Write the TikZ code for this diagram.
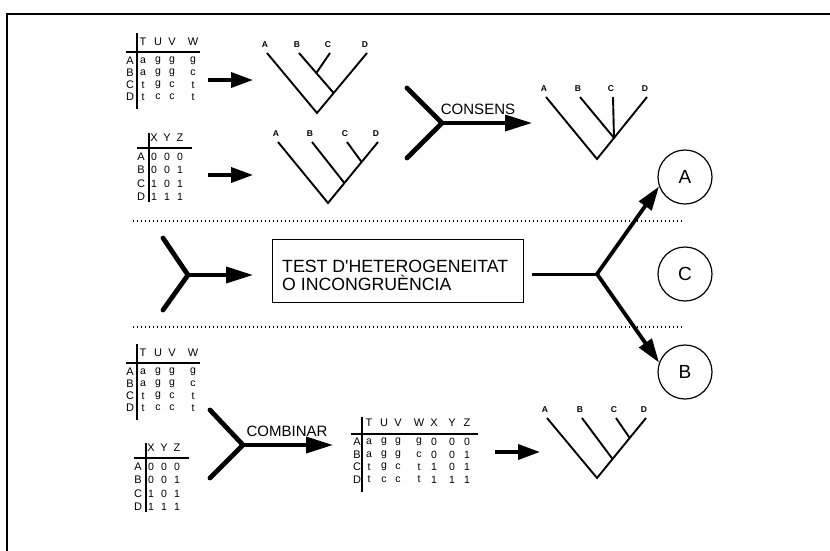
\documentclass[tikz,border=0pt]{standalone}
\usepackage{fontspec}
\setmainfont{Liberation Sans}
\usetikzlibrary{arrows.meta,calc}

\tikzset{
  frame/.style={line width=2.6pt, line join=miter},
  vrule/.style={line width=1.8pt},
  hrule/.style={line width=1.3pt},
  mtxt/.style={inner sep=0pt, font=\fontsize{11}{12}\selectfont},
  mval/.style={inner sep=0pt, font=\fontsize{10.5}{12}\selectfont},
  branch/.style={line width=1.9pt},
  leaf/.style={inner sep=0pt, font=\bfseries\fontsize{8.5}{9}\selectfont},
  fatarrow/.style={line width=3.6pt, -{Triangle[length=22pt,width=15pt]}},
  bigarrow/.style={line width=3.6pt, -{Triangle[length=27pt,width=16pt]}},
  outarrow/.style={line width=3.8pt, -{Triangle[length=24pt,width=15pt]}},
  fork/.style={line width=4.8pt, line cap=round, line join=miter},
  stem/.style={line width=3pt},
  sep/.style={line width=1.1pt, dash pattern=on 1.1pt off 2.9pt},
  outcome/.style={circle, draw, line width=1.2pt, minimum size=54pt, inner sep=0pt,
    font=\fontsize{19}{22}\selectfont},
  testbox/.style={draw, line width=1.4pt, minimum width=251pt, minimum height=63pt,
    inner sep=0pt, anchor=north west},
  testtxt/.style={inner sep=0pt, anchor=north west, align=left,
    font=\fontsize{17.7}{17.5}\selectfont},
  verb/.style={inner sep=0pt, font=\fontsize{15}{18}\selectfont},
}

% character table with columns T U V W
\newcommand\tuvwtable[1]{%
  \coordinate (#1-vt) at (137,33); \coordinate (#1-vb) at (137,109);
  \coordinate (#1-hl) at (126,52); \coordinate (#1-hr) at (200,52);
  \draw[vrule] (#1-vt) -- (#1-vb);
  \draw[hrule] (#1-hl) -- (#1-hr);
  \foreach \hd/\x in {T/143,U/158,V/172,W/193}
    \node[mtxt] (#1-\hd) at (\x,42) {\hd};
  \foreach \rw/\y/\cells in {A/61/{143/a,158/g,172/g,193/g},
                             B/73/{143/a,158/g,172/g,193/c},
                             C/85/{143/t,158/g,172/c,193/t},
                             D/97/{143/t,158/c,172/c,193/t}}{
    \node[mtxt] (#1-\rw) at (130,\y) {\rw};
    \foreach \x/\val [count=\ci] in \cells
      \node[mval] (#1-\rw\ci) at (\x,\y) {\val};
  }
}

% character table with columns X Y Z
\newcommand\xyztable[1]{%
  \coordinate (#1-vt) at (149,133); \coordinate (#1-vb) at (149,202);
  \coordinate (#1-hl) at (137,148); \coordinate (#1-hr) at (192,148);
  \draw[vrule] (#1-vt) -- (#1-vb);
  \draw[hrule] (#1-hl) -- (#1-hr);
  \foreach \hd/\x in {X/154,Y/167,Z/180}
    \node[mtxt] (#1-\hd) at (\x,138) {\hd};
  \foreach \rw/\y/\cells in {A/157/{154/0,167/0,180/0},
                             B/170/{154/0,167/0,180/1},
                             C/184/{154/1,167/0,180/1},
                             D/197/{154/1,167/1,180/1}}{
    \node[mtxt] (#1-\rw) at (141,\y) {\rw};
    \foreach \x/\val [count=\ci] in \cells
      \node[mval] (#1-\rw\ci) at (\x,\y) {\val};
  }
}

\begin{document}
\begin{tikzpicture}[x=1pt,y=-1pt]
\useasboundingbox (0,0) rectangle (830,550);

% frame
\coordinate (fbl) at (7,551);
\coordinate (ftl) at (7,14);
\coordinate (ftr) at (831,14);
\draw[frame] (fbl) -- (ftl) -- (ftr);

% ---------- upper band: separate analyses ----------
\tuvwtable{m1}
\xyztable{m2}

\coordinate (a1s) at (208,80);  \coordinate (a1e) at (253,80);
\coordinate (a2s) at (208,175); \coordinate (a2e) at (253,175);
\draw[fatarrow] (a1s) -- (a1e);
\draw[fatarrow] (a2s) -- (a2e);

% tree from the T U V W table
\coordinate (t1A) at (267,53); \coordinate (t1B) at (299,53);
\coordinate (t1C) at (330,53); \coordinate (t1D) at (367,53);
\coordinate (t1r) at (317,113);
\coordinate (t1n) at ($(t1r)!0.333!(t1D)$);
\coordinate (t1m) at ($(t1B)!0.5!(t1n)$);
\draw[branch] (t1A) -- (t1r) -- (t1D);
\draw[branch] (t1B) -- (t1n);
\draw[branch] (t1C) -- (t1m);
\foreach \t in {A,B,C,D} \node[leaf] (t1l\t) at ([shift={(-2,-8)}]t1\t) {\t};

% tree from the X Y Z table
\coordinate (t2A) at (278,142); \coordinate (t2B) at (312,142);
\coordinate (t2C) at (347,142); \coordinate (t2D) at (378,142);
\coordinate (t2r) at (328,203);
\coordinate (t2n) at ($(t2r)!0.328!(t2D)$);
\coordinate (t2m) at ($(t2r)!0.672!(t2D)$);
\draw[branch] (t2A) -- (t2r) -- (t2D);
\draw[branch] (t2B) -- (t2n);
\draw[branch] (t2C) -- (t2m);
\foreach \t in {A,B,C,D} \node[leaf] (t2l\t) at ([shift={(-2,-8)}]t2\t) {\t};

% consensus
\coordinate (k1u) at (407,88); \coordinate (k1d) at (407,158);
\coordinate (k1j) at (442,123); \coordinate (k1e) at (532,123);
\draw[fork] (k1u) -- (k1j) -- (k1d);
\draw[bigarrow] (k1j) -- (k1e);
\node[verb] (consens) at (478,109) {CONSENS};

\coordinate (t3A) at (546,97); \coordinate (t3B) at (580,97);
\coordinate (t3C) at (613,97); \coordinate (t3D) at (647,97);
\coordinate (t3r) at (597,159);
\coordinate (t3n) at ($(t3r)!0.34!(t3D)$);
\draw[branch] (t3A) -- (t3r) -- (t3D);
\draw[branch] (t3B) -- (t3n);
\draw[branch] (t3C) -- (t3n);
\foreach \t in {A,B,C,D} \node[leaf] (t3l\t) at ([shift={(-2,-8)}]t3\t) {\t};

% ---------- separators ----------
\coordinate (s1a) at (133,221); \coordinate (s1b) at (683,221);
\coordinate (s2a) at (133,327); \coordinate (s2b) at (683,327);
\draw[sep] (s1a) -- (s1b);
\draw[sep] (s2a) -- (s2b);

% ---------- middle band: the test ----------
\coordinate (k2u) at (163,238); \coordinate (k2d) at (163,310);
\coordinate (k2j) at (188,275); \coordinate (k2e) at (253,275);
\draw[fork] (k2u) -- (k2j) -- (k2d);
\draw[bigarrow] (k2j) -- (k2e);

\node[testbox] (test) at (272,239) {};
\node[testtxt] (testlabel) at (282,260)
  {TEST D\textquotesingle HETEROGENEITAT\\O INCONGRUÈNCIA};

\node[outcome] (cA) at (685,177) {A};
\node[outcome] (cC) at (685,274) {C};
\node[outcome] (cB) at (685,372) {B};

\coordinate (bs) at (532,274); \coordinate (jr) at (597,274);
\draw[stem] (bs) -- (jr);
\draw[outarrow] (jr) -- (cA.200);
\draw[outarrow] (jr) -- (cB.160);

% ---------- lower band: combined analysis ----------
\begin{scope}[shift={(0,311)}]
  \tuvwtable{m3}
\end{scope}
\begin{scope}[shift={(-3,310)}]
  \xyztable{m4}
\end{scope}

\coordinate (k3u) at (210,410); \coordinate (k3d) at (210,478);
\coordinate (k3j) at (243,445); \coordinate (k3e) at (333,445);
\draw[fork] (k3u) -- (k3j) -- (k3d);
\draw[bigarrow] (k3j) -- (k3e);
\node[verb] (combinar) at (287,431) {COMBINAR};

% combined table
\coordinate (m5-vt) at (362,417); \coordinate (m5-vb) at (362,492);
\coordinate (m5-hl) at (351,434); \coordinate (m5-hr) at (478,434);
\draw[vrule] (m5-vt) -- (m5-vb);
\draw[hrule] (m5-hl) -- (m5-hr);
\foreach \hd/\x in {T/369,U/384,V/398,W/419,X/434,Y/452,Z/467}
  \node[mtxt] (m5-\hd) at (\x,423) {\hd};
\foreach \rw/\y/\cells in {A/442/{a,g,g,g,0,0,0},
                           B/454.5/{a,g,g,c,0,0,1},
                           C/467/{t,g,c,t,1,0,1},
                           D/479.5/{t,c,c,t,1,1,1}}{
  \node[mtxt] (m5-\rw) at (357,\y) {\rw};
  \foreach \val [count=\ci] in \cells {
    \pgfmathsetmacro\cx{{369,384,398,419,434,452,467}[\ci-1]}
    \node[mval] (m5-\rw\ci) at (\cx,\y) {\val};
  }
}

\coordinate (a4s) at (495,452); \coordinate (a4e) at (540,452);
\draw[fatarrow] (a4s) -- (a4e);

% tree from the combined table
\coordinate (t4A) at (547,418); \coordinate (t4B) at (582,418);
\coordinate (t4C) at (616,418); \coordinate (t4D) at (646,418);
\coordinate (t4r) at (597,478);
\coordinate (t4n) at ($(t4r)!0.317!(t4D)$);
\coordinate (t4m) at ($(t4r)!0.667!(t4D)$);
\draw[branch] (t4A) -- (t4r) -- (t4D);
\draw[branch] (t4B) -- (t4n);
\draw[branch] (t4C) -- (t4m);
\foreach \t in {A,B,C,D} \node[leaf] (t4l\t) at ([shift={(-2,-8)}]t4\t) {\t};

\end{tikzpicture}
\end{document}
